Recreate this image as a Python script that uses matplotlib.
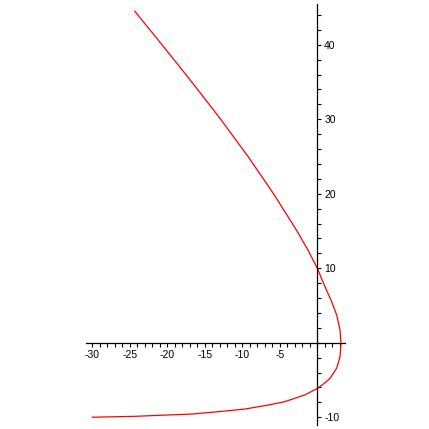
import matplotlib
matplotlib.use("Agg")
import matplotlib.pyplot as plt
from matplotlib.ticker import MultipleLocator, FuncFormatter

# Curve points (x, y), in drawing order
curve_x = [-24.34, -20.71, -16.74, -12.89, -9.24, -5.84, -2.71, -1.28,
           0.0, 1.03, 1.92, 2.59, 3.03, 3.16, 3.03, 2.59, 1.69, 0.8, 0.0,
           -1.64, -4.3, -6.5, -9.64, -13.2, -16.7, -19.9, -24.3, -30.0]
curve_y = [44.5, 40.0, 35.0, 30.0, 25.0, 20.0, 15.0, 12.5,
           10.0, 7.5, 5.5, 3.7, 1.7, -0.1, -1.9, -3.4, -4.8, -5.55, -6.15,
           -7.0, -7.9, -8.36, -8.9, -9.26, -9.57, -9.7, -9.88, -10.0]

x_major = [-30, -25, -20, -15, -10, -5]
y_major = [-10, 10, 20, 30, 40]

plt.rcParams['font.family'] = ['Liberation Sans', 'DejaVu Sans']

fig = plt.figure(figsize=(4.29, 4.29), dpi=100)
ax = fig.add_axes([0.2012, 0.0101, 0.6031, 0.9812])
ax.set_xlim(-30.8, 3.7)
ax.set_ylim(-11, 45.5)

ax.plot(curve_x, curve_y, color='#ff0000', lw=0.9, solid_joinstyle='round')

for s in ['top', 'left']:
    ax.spines[s].set_visible(False)
ax.spines['bottom'].set_position(('data', 0))
ax.spines['right'].set_position(('data', 0))
for s in ['bottom', 'right']:
    ax.spines[s].set_linewidth(0.9)
    ax.spines[s].set_color('black')

ax.yaxis.tick_right()
ax.xaxis.tick_bottom()

ax.set_xticks(x_major)
ax.set_yticks(y_major)
ax.xaxis.set_minor_locator(MultipleLocator(1))
ax.yaxis.set_minor_locator(MultipleLocator(2))
ax.xaxis.set_major_formatter(FuncFormatter(lambda v, p: f"{int(round(v))}"))
ax.yaxis.set_major_formatter(FuncFormatter(lambda v, p: f"{int(round(v))}"))

ax.tick_params(axis='both', which='both', direction='out', length=3, width=0.8,
               labelsize=7.5, colors='black')
ax.tick_params(axis='x', pad=2)
ax.tick_params(axis='y', pad=2)

fig.savefig('out.png', dpi=100, facecolor='white')
